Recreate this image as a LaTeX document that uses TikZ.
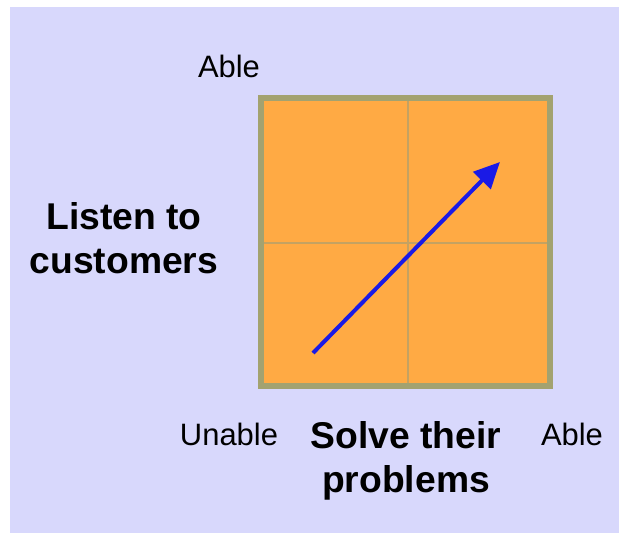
\documentclass[tikz,border=0pt]{standalone}
\usepackage{fontspec}
\setmainfont{Liberation Sans}
\usetikzlibrary{positioning,arrows.meta,calc}
\definecolor{lavender}{HTML}{D8D8FC}
\definecolor{boxorange}{HTML}{FFAA44}
\definecolor{olive}{HTML}{A3A270}
\definecolor{gridline}{HTML}{C4A262}
\definecolor{arrowblue}{HTML}{1A1AE6}

\begin{document}
\begin{tikzpicture}[x=0.025cm, y=-0.025cm,
    small/.style={font=\fontsize{22}{26}\selectfont, anchor=base},
    big/.style={font=\fontsize{26.5}{31}\selectfont\bfseries, align=center}]
    \useasboundingbox (0,0) rectangle (619,533);
    % Background
    \fill[lavender] (10,7) rectangle (619,533);

    % Square with quadrants
    \fill[boxorange] (261,98) rectangle (550,386);
    \draw[gridline, line width=0.05cm] (408,98) -- (408,386);
    \draw[gridline, line width=0.05cm] (261,243) -- (550,243);
    \draw[olive, line width=0.15cm] (261,98) rectangle (550,386);

    % Arrow
    \coordinate (start) at (313,353);
    \coordinate (tip) at (500,162);
    \draw[arrowblue, line width=0.1cm, -{Triangle[length=0.65cm, width=0.6cm]}] (start) -- (tip);

    % Labels
    \node[small] (ableTop) at (229,77) {Able};
    \node[small] (unable) at (229,445) {Unable};
    \node[small] (ableRight) at (572,445) {Able};
    \node[big] (listen) at (124,238) {Listen to\\customers};
    \node[big] (solve) at (406,461) {Solve their\\problems};
\end{tikzpicture}
\end{document}
